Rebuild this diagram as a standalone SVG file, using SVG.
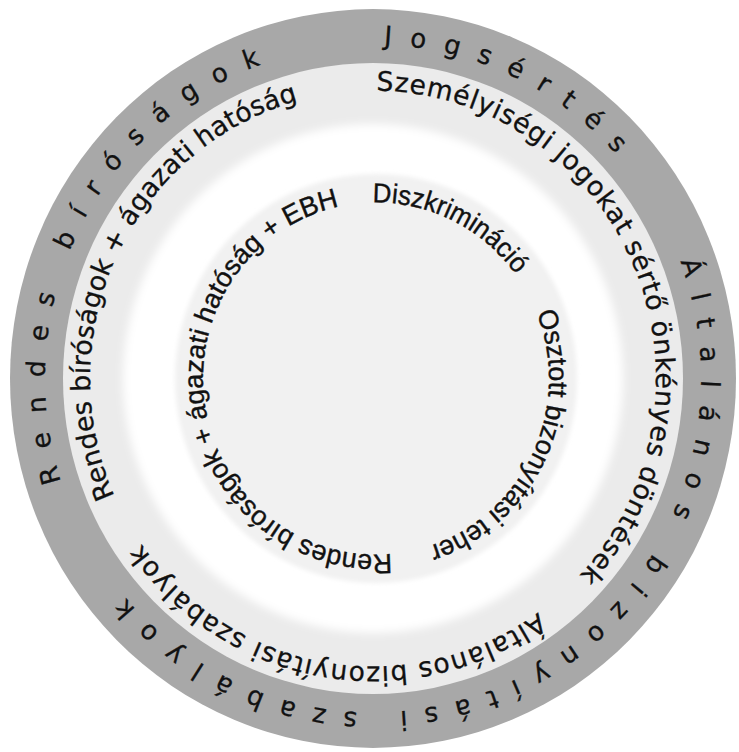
<svg xmlns="http://www.w3.org/2000/svg" xmlns:xlink="http://www.w3.org/1999/xlink" width="739" height="752" viewBox="0 0 739 752">
<style>
.outer{font-family:"DejaVu Sans",sans-serif;font-size:26px;fill:#111;stroke:#111;stroke-width:0.3}
.mid{font-family:"DejaVu Sans",sans-serif;font-size:26.5px;fill:#111;stroke:#111;stroke-width:0.3}
.inner{font-family:"Liberation Sans",Arial,sans-serif;font-size:27px;fill:#111;stroke:#111;stroke-width:0.4}
</style>
<defs>
<path id="pO" d="M328,0 A328,328 0 1 1 -328,0 A328,328 0 1 1 328,0"/>
<path id="pM" d="M283,0 A283,283 0 1 1 -283,0 A283,283 0 1 1 283,0"/>
<path id="pI" d="M173,0 A173,173 0 1 1 -173,0 A173,173 0 1 1 173,0"/>
<filter id="soft" x="-10%" y="-10%" width="120%" height="120%"><feGaussianBlur stdDeviation="4"/></filter>
<filter id="soft2" x="-10%" y="-10%" width="120%" height="120%"><feGaussianBlur stdDeviation="2"/></filter>
</defs>
<rect width="739" height="752" fill="#ffffff"/>
<g transform="matrix(1 0 0 1.0176 373 378.5)">
<g id="rings">
<circle id="ring-outer" r="363" fill="#a8a8a8"/>
<circle id="ring-middle" r="310" fill="#ebebeb"/>
<circle id="ring-gap" r="250" fill="#ffffff" filter="url(#soft)"/>
<circle id="core" cx="3" cy="0" r="201" fill="#f1f1f1" filter="url(#soft2)"/>
</g>
<g id="outer-texts" class="outer">
<text id="t-rendes-birosagok" transform="rotate(162.0)" letter-spacing="18.2"><textPath xlink:href="#pO">Rendes bíróságok</textPath></text>
<text id="t-jogsertes" transform="rotate(271.9)" letter-spacing="17.8"><textPath xlink:href="#pO">Jogsértés</textPath></text>
<text id="t-altalanos" transform="rotate(339.5)" letter-spacing="16.9"><textPath xlink:href="#pO">Általános bizonyítási szabályok</textPath></text>
</g>
<g id="middle-texts" class="mid">
<text id="m-szemelyisegi" transform="rotate(270.7)" letter-spacing="0.75"><textPath xlink:href="#pM">Személyiségi jogokat sértő önkényes döntések</textPath></text>
<text id="m-rendes" transform="rotate(155.9)" letter-spacing="0.05"><textPath xlink:href="#pM">Rendes bíróságok + ágazati hatóság</textPath></text>
<text id="m-altalanos" transform="rotate(54.3)" letter-spacing="1.15"><textPath xlink:href="#pM">Általános bizonyítási szabályok</textPath></text>
</g>
<g id="inner-texts" class="inner" transform="translate(3,0)">
<text id="i-diszkriminacio" transform="rotate(268.9)"><textPath xlink:href="#pI" textLength="166" lengthAdjust="spacingAndGlyphs">Diszkrimináció</textPath></text>
<text id="i-osztott" transform="rotate(338.1)"><textPath xlink:href="#pI" textLength="284" lengthAdjust="spacingAndGlyphs">Osztott bizonyítási teher</textPath></text>
<text id="i-rendes" transform="rotate(84.8)"><textPath xlink:href="#pI" textLength="522" lengthAdjust="spacingAndGlyphs">Rendes bíróságok + ágazati hatóság + EBH</textPath></text>
</g>
</g>
</svg>
